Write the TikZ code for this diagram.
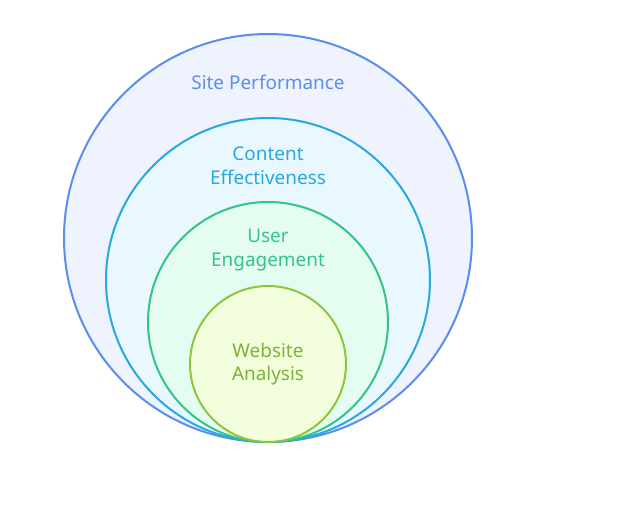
\documentclass[tikz,border=0pt]{standalone}
\usepackage{fontspec}
\setmainfont{Noto Sans}
\definecolor{perfLine}{HTML}{5B8DEF}
\definecolor{perfFill}{HTML}{EEF3FE}
\definecolor{contLine}{HTML}{29A8E0}
\definecolor{contFill}{HTML}{E8F8FE}
\definecolor{userLine}{HTML}{33C48A}
\definecolor{userFill}{HTML}{E4FDF0}
\definecolor{webLine}{HTML}{8CC63F}
\definecolor{webFill}{HTML}{F2FEDC}

\begin{document}
\begin{tikzpicture}
[x=0.75pt,y=-0.75pt,%
  ringDecorate/.style={shape=circle,inner sep=0pt,line width=1.5pt},%
  labelDecorate/.style={align=center,font=\fontsize{14.2}{17.8}\selectfont}]
\useasboundingbox (0,0) rectangle (626,507);
%% rings
\foreach \ringname/\y/\r/\col in {perf/238/204/perf, cont/280/162/cont, user/322/120/user, web/364/78/web}
{
  \node (\ringname) at (268,\y) [ringDecorate,draw=\col Line,fill=\col Fill,minimum size=2*\r*0.75pt] {};
}
%% labels
\node (perfText) at (268,82) [labelDecorate,text=perfLine] {Site Performance};
\node (contText) at (268,166) [labelDecorate,text=contLine] {Content\\Effectiveness};
\node (userText) at (268,250) [labelDecorate,text=userLine] {User\\Engagement};
\node (webText) at (268,364) [labelDecorate,text=webLine!90!black] {Website\\Analysis};
\end{tikzpicture}
\end{document}
